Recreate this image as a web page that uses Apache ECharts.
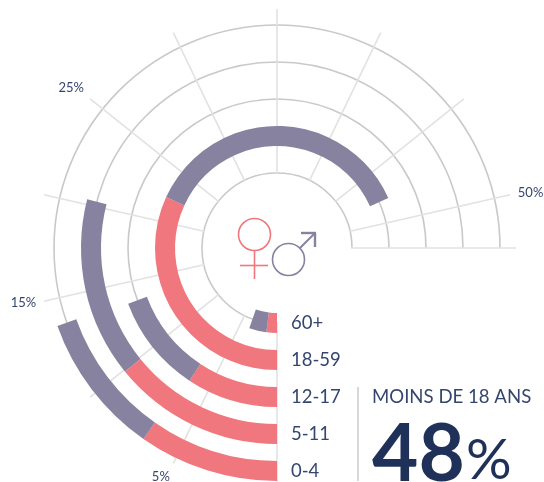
<!DOCTYPE html>
<html>
<head>
<meta charset="utf-8">
<script src="https://cdn.jsdelivr.net/npm/echarts@6/dist/echarts.min.js"></script>
<style>html,body{margin:0;padding:0;background:#fff}</style>
</head>
<body>
<div id="chart" style="width:544px;height:482px"></div>
<script>
// de l'interieur vers l'exterieur
var ageGroups = ['60+', '18-59', '12-17', '5-11', '0-4'];
var femmes = [1.4, 22.3, 6.5, 9.9, 6.8];
var hommes = [2.3, 25.5, 7.0, 10.4, 6.9];
var shownTicks = [5, 15, 25, 50];

var rose = '#f0777e', gris = '#87829f', navy = '#1f3158', textColor = '#35466e';
var font = 'Lato, "Open Sans", sans-serif';

var myChart = echarts.init(document.getElementById('chart'));

function ligne(x1, y1, x2, y2, color, w) {
    return {type: 'line', silent: true, z: 10, shape: {x1: x1, y1: y1, x2: x2, y2: y2},
        style: {stroke: color, lineWidth: w || 1.6, fill: null}};
}
function rond(cx, cy, r, color) {
    return {type: 'circle', silent: true, z: 10, shape: {cx: cx, cy: cy, r: r},
        style: {stroke: color, lineWidth: 1.6, fill: null}};
}
function texte(x, y, str, size, weight, color) {
    return {type: 'text', silent: true, z: 10, x: x, y: y,
        style: {text: str, font: weight + ' ' + size + 'px ' + font, fill: color, textVerticalAlign: 'middle'}};
}

myChart.setOption({
    animation: false,
    backgroundColor: '#fff',
    polar: [
        {center: [277, 248], radius: [56.5, 241.5]},
        {center: [277, 248], radius: [74, 239]}
    ],
    angleAxis: [
        {polarIndex: 0, type: 'value', min: 0, max: 52.5, startAngle: 270, endAngle: 0, clockwise: true, show: false},
        {
            polarIndex: 1, type: 'value', min: 0, max: 52.5, interval: 5, startAngle: 270, endAngle: 0, clockwise: true,
            axisLine: {show: false},
            axisTick: {show: false},
            splitLine: {show: true, lineStyle: {color: '#e2e2e2', width: 1.6}},
            axisLabel: {
                margin: 8, fontSize: 13, color: textColor, fontFamily: font,
                formatter: function (v) { return shownTicks.indexOf(v) >= 0 ? v + '%' : ''; }
            }
        }
    ],
    radiusAxis: [
        {
            polarIndex: 0, type: 'category', data: ageGroups,
            axisLine: {show: false},
            axisTick: {show: false, alignWithLabel: true},
            splitLine: {show: true, interval: 0, lineStyle: {color: '#c9c9c9', width: 1.6}},
            axisLabel: {show: true, interval: 0, fontSize: 18.5, color: textColor, fontFamily: font, margin: 14, rotate: 0, padding: [3, 0, 0, 0]}
        },
        {polarIndex: 1, type: 'value', show: false}
    ],
    series: [
        {name: 'Femmes', type: 'bar', coordinateSystem: 'polar', polarIndex: 0, stack: 'a', barWidth: 20,
            itemStyle: {color: rose}, data: femmes},
        {name: 'Hommes', type: 'bar', coordinateSystem: 'polar', polarIndex: 0, stack: 'a', barWidth: 20,
            itemStyle: {color: gris}, data: hommes}
    ],
    graphic: [
        // symboles
        rond(254.5, 234.5, 16, rose),
        ligne(254.5, 250.5, 254.5, 279, rose),
        ligne(240, 265.5, 268, 265.5, rose),
        rond(288.5, 259.5, 16, gris),
        ligne(300, 248, 315, 233, gris, 2),
        ligne(301, 233, 316, 233, gris, 2.4),
        ligne(315, 233, 315, 247, gris, 2.4),
        // encadre
        ligne(358, 387, 358, 481, '#cfcfcf', 1.6),
        texte(372, 397, 'MOINS DE 18 ANS', 18.6, 400, textColor),
        texte(372, 455, '48', 80, 700, navy),
        texte(466, 461, '%', 57, 400, navy)
    ]
});
</script>
</body>
</html>
